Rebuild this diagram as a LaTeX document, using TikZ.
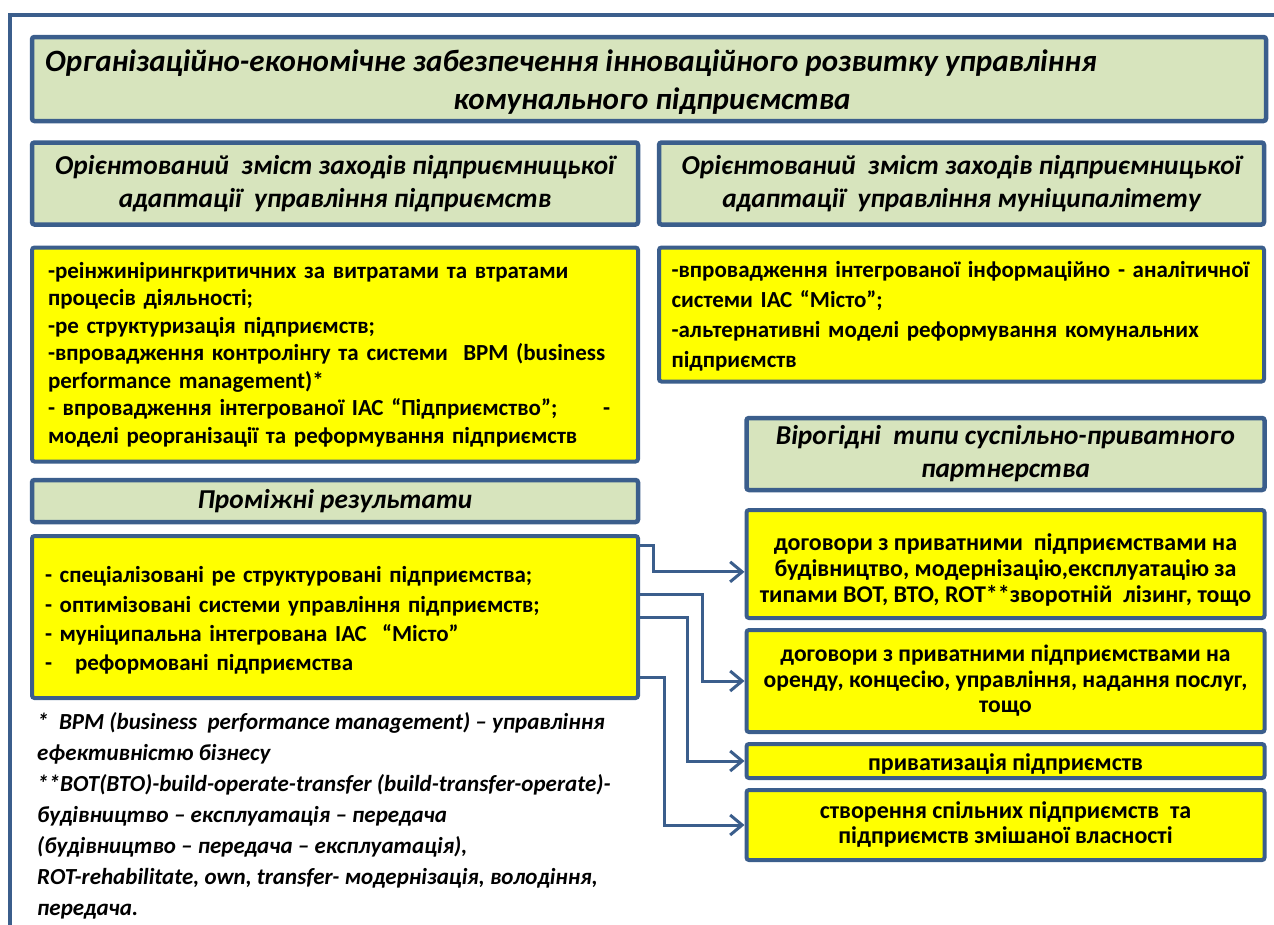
\documentclass[tikz,border=0pt]{standalone}
\usepackage{fontspec}
\setmainfont{Carlito}
\usetikzlibrary{arrows.meta,calc,shadows}
\definecolor{frameblue}{HTML}{3B5E8C}
\definecolor{hdrgreen}{HTML}{D7E4BD}
\definecolor{hiyellow}{HTML}{FFFF00}
% invisible strut that pushes a node's text a little lower
\newcommand{\tallstrut}[1]{\rule{0pt}{#1}}
\begin{document}
\begin{tikzpicture}[x=1pt,y=-1pt,
  box/.style={draw=frameblue, line width=4.5pt, rounded corners=2.5pt, inner sep=0pt,
    drop shadow={shadow xshift=1.5pt,shadow yshift=-1.5pt,opacity=0.18}},
  hdr/.style={box, fill=hdrgreen, align=center,
    font=\fontsize{27.3}{33}\selectfont\bfseries\itshape},
  yel/.style={box, fill=hiyellow, line width=4pt,
    font=\fontsize{23}{27.5}\selectfont\bfseries},
  titletext/.style={inner sep=0pt, font=\fontsize{31}{37}\selectfont\bfseries\itshape},
  notes/.style={inner sep=0pt, align=left,
    font=\fontsize{23}{31}\selectfont\bfseries\itshape},
  link/.style={draw=frameblue, line width=3pt, line join=miter,
    -{Straight Barb[length=12pt,width=20pt]}},
]
\useasboundingbox (0,0) rectangle (1274,924);
\clip (0,0) rectangle (1274,924);
% outer frame
\draw[frameblue, line width=4pt] (10,15) rectangle (1300,960);

% title
\node[hdr, minimum width=1234pt, minimum height=84pt] (title) at (649,79) {};
\node[titletext, anchor=base west] (title1) at (45,71)
  {Організаційно-економічне забезпечення інноваційного розвитку управління};
\node[titletext, anchor=base] (title2) at (652,109) {комунального підприємства};

% column headers
\node[hdr, minimum width=606pt, minimum height=82pt] (hdrL) at (335,183.5)
  {Орієнтований\ \ зміст заходів підприємницької\\адаптації\ \ управління підприємств};
\node[hdr, minimum width=605pt, minimum height=82pt] (hdrR) at (961.5,183.5)
  {Орієнтований\ \ зміст заходів підприємницької\\адаптації\ \ управління муніципалітету};

% measures
\node[yel, minimum width=606pt, minimum height=214pt, text width=574pt, align=left] (yelL) at (335,354.5)
  {-реінжинірингкритичних за витратами та втратами\\
   процесів діяльності;\\
   -ре структуризація підприємств;\\
   -впровадження контролінгу та системи\ \ BPM (business\\
   performance management)*\\
   \makebox[562pt][l]{- впровадження інтегрованої ІАС “Підприємство”;\hfill-}\\
   моделі реорганізації та реформування підприємств};
\node[yel, minimum width=605pt, minimum height=134pt, text width=580pt, align=left,
  font=\fontsize{23}{30.2}\selectfont\bfseries] (yelR) at (961.5,314.5)
  {\tallstrut{20pt}-впровадження інтегрованої інформаційно - аналітичної\\
   системи ІАС “Місто”;\\
   -альтернативні моделі реформування комунальних\\
   підприємств};

% intermediate results
\node[hdr, minimum width=606pt, minimum height=42pt] (hdrM) at (335,501) {Проміжні результати};
\node[yel, minimum width=606pt, minimum height=162pt, text width=580pt, align=left,
  font=\fontsize{23}{29.3}\selectfont\bfseries] (yelM) at (335,617)
  {\tallstrut{23pt}- спеціалізовані ре структуровані підприємства;\\
   - оптимізовані системи управління підприємств;\\
   - муніципальна інтегрована ІАС\ \ “Місто”\\
   -\ \ \ реформовані підприємства};

% partnership types
\node[hdr, minimum width=518pt, minimum height=72pt] (hdrP) at (1005.5,454)
  {Вірогідні\ \ типи суспільно-приватного\\партнерства};
\node[yel, minimum width=518pt, minimum height=108pt, align=center,
  font=\fontsize{24}{26}\selectfont\bfseries] (p1) at (1005.5,564)
  {\tallstrut{29pt}договори з приватними\ \ підприємствами на\\
   будівництво, модернізацію,експлуатацію за\\
   типами BOT, BTO, ROT**зворотній\ \ лізинг, тощо};
\node[yel, minimum width=518pt, minimum height=102pt, align=center,
  font=\fontsize{23.6}{25.5}\selectfont\bfseries] (p2) at (1005.5,681)
  {договори з приватними підприємствами на\\
   оренду, концесію, управління, надання послуг,\\
   тощо};
\node[yel, minimum width=518pt, minimum height=34pt, align=center,
  font=\fontsize{24}{26}\selectfont\bfseries] (p3) at (1005.5,761)
  {\tallstrut{23pt}приватизація підприємств};
\node[yel, minimum width=518pt, minimum height=70pt, align=center,
  font=\fontsize{24}{25}\selectfont\bfseries] (p4) at (1005.5,825)
  {створення спільних підприємств\ \ та\\
   підприємств змішаної власності};

% footnotes
\node[notes, anchor=north west] (notes) at (37,712.5)
  {*\ \ BPM (business\ \ performance management) – управління\\
   ефективністю бізнесу\\
   **BOT(BTO)-build-operate-transfer (build-transfer-operate)-\\
   будівництво – експлуатація – передача\\
   (будівництво – передача – експлуатація),\\
   ROT-rehabilitate, own, transfer- модернізація, володіння,\\
   передача.};

% connectors from the results to the partnership types
\draw[link] ($(yelM.north east)!0.068!(yelM.south east)$) -- ++(13,0)
  |- ($(p1.north west)!0.57!(p1.south west)$);
\draw[link] ($(yelM.north east)!0.364!(yelM.south east)$) -- ++(62,0) |- (p2.west);
\draw[link] ($(yelM.north east)!0.5!(yelM.south east)$) -- ++(47,0) |- (p3.west);
\draw[link] ($(yelM.north east)!0.864!(yelM.south east)$) -- ++(24,0) |- (p4.west);
\end{tikzpicture}
\end{document}
